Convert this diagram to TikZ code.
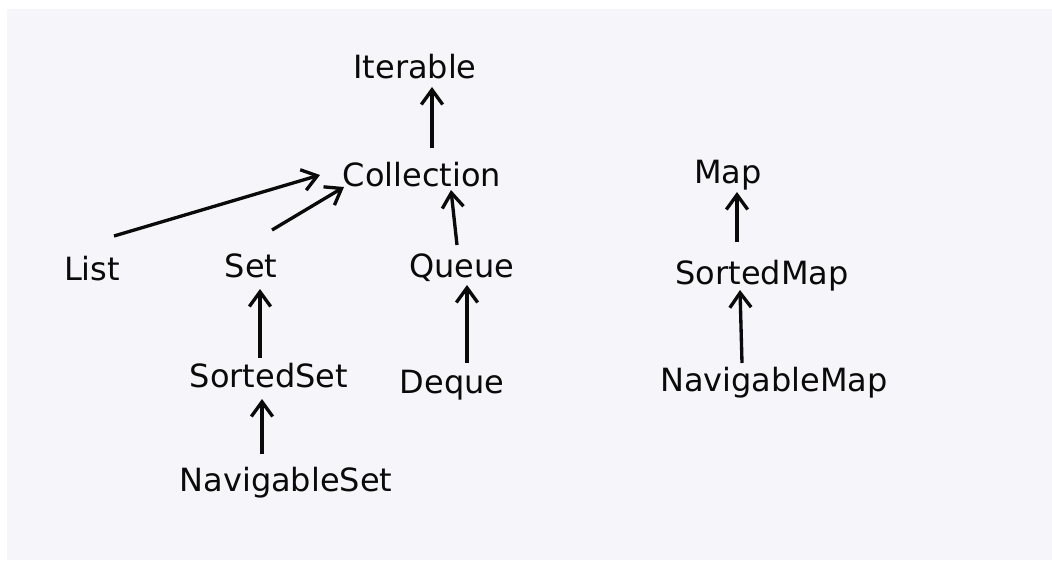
\documentclass[tikz,border=0pt]{standalone}
\usepackage{fontspec}
\setmainfont{DejaVu Sans}
\usetikzlibrary{arrows.meta,calc}
\definecolor{paper}{HTML}{F6F6FA}
\definecolor{ink}{HTML}{0A0A0A}

\begin{document}
\begin{tikzpicture}[x=0.75pt,y=-0.75pt,
  iface/.style={anchor=base,inner sep=0pt,text=ink,font=\fontsize{24}{28}\selectfont},
  arr/.style={draw=ink,line width=2.5pt,-{Straight Barb[length=11pt,width=16pt]}}]
  \useasboundingbox (0,0) rectangle (1052,560);
  \fill[paper] (7,9) rectangle (1052,560);
  % collection side
  \node[iface] (iter)  at (415,79)  {Iterable};
  \node[iface] (coll)  at (422,186) {Collection};
  \node[iface] (list)  at (92,280)  {List};
  \node[iface] (set)   at (251,277) {Set};
  \node[iface] (queue) at (462,277) {Queue};
  \node[iface] (sset)  at (269,387) {SortedSet};
  \node[iface] (deque) at (452,393) {Deque};
  \node[iface] (nset)  at (286,491) {NavigableSet};
  % map side
  \node[iface] (map)  at (728,183) {Map};
  \node[iface] (smap) at (762,284) {SortedMap};
  \node[iface] (nmap) at (774,391) {NavigableMap};

  \draw[arr] ($(coll.base)+(10,-38)$) -- ($(iter.base)+(17,8)$);
  \draw[arr] ($(list.base)+(22,-44)$) -- ($(coll.base)+(-102,-11)$);
  \draw[arr] ($(set.base)+(21,-47)$) -- ($(coll.base)+(-78,1)$);
  \draw[arr] ($(queue.base)+(-5,-32)$) -- ($(coll.base)+(29,4)$);
  \draw[arr] ($(deque.base)+(15,-30)$) -- ($(queue.base)+(5,8)$);
  \draw[arr] ($(sset.base)+(-9,-29)$) -- ($(set.base)+(9,12)$);
  \draw[arr] ($(nset.base)+(-24,-37)$) -- ($(sset.base)+(-7,12)$);
  \draw[arr] ($(smap.base)+(-25,-42)$) -- ($(map.base)+(9,9)$);
  \draw[arr] ($(nmap.base)+(-32,-28)$) -- ($(smap.base)+(-22,6)$);
\end{tikzpicture}
\end{document}
